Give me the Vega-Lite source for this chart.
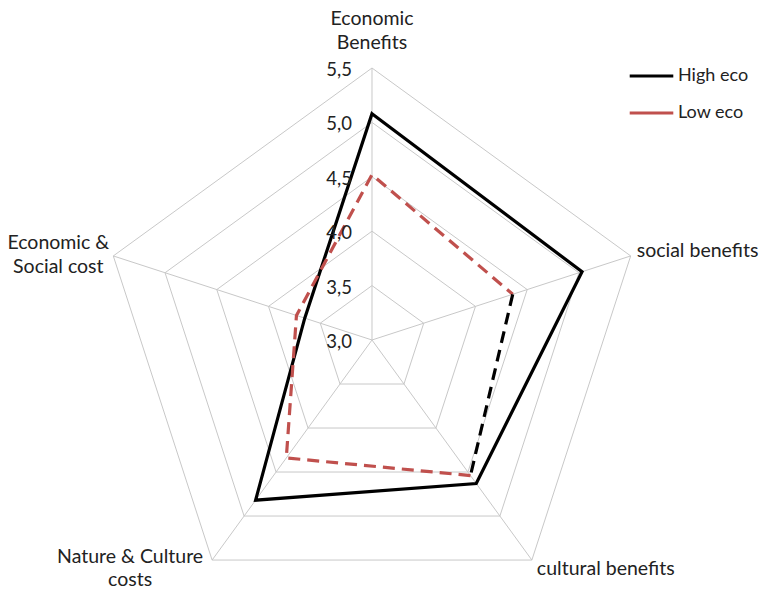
{
  "$schema": "https://vega.github.io/schema/vega-lite/v6.json",
  "width": 762,
  "height": 591,
  "padding": 0,
  "autosize": {"type": "none"},
  "background": "white",
  "config": {"view": {"stroke": null}, "font": "Lato"},
  "datasets": {
    "scores": [
      {"axis": "Economic Benefits", "idx": 0, "series": "High eco", "value": 5.08},
      {"axis": "social benefits", "idx": 1, "series": "High eco", "value": 5.03},
      {"axis": "cultural benefits", "idx": 2, "series": "High eco", "value": 4.63},
      {"axis": "Nature & Culture costs", "idx": 3, "series": "High eco", "value": 4.82},
      {"axis": "Economic & Social cost", "idx": 4, "series": "High eco", "value": 3.65},
      {"axis": "Economic Benefits", "idx": 0, "series": "Low eco", "value": 4.52},
      {"axis": "social benefits", "idx": 1, "series": "Low eco", "value": 4.36},
      {"axis": "cultural benefits", "idx": 2, "series": "Low eco", "value": 4.54},
      {"axis": "Nature & Culture costs", "idx": 3, "series": "Low eco", "value": 4.34},
      {"axis": "Economic & Social cost", "idx": 4, "series": "Low eco", "value": 3.73}
    ],
    "rings": [
      {"level": 3.5, "idx": [0, 1, 2, 3, 4]},
      {"level": 4.0, "idx": [0, 1, 2, 3, 4]},
      {"level": 4.5, "idx": [0, 1, 2, 3, 4]},
      {"level": 5.0, "idx": [0, 1, 2, 3, 4]},
      {"level": 5.5, "idx": [0, 1, 2, 3, 4]}
    ],
    "axes": [
      {"axis": "Economic\nBenefits", "idx": 0},
      {"axis": "social benefits", "idx": 1},
      {"axis": "cultural benefits", "idx": 2},
      {"axis": "Nature & Culture\ncosts", "idx": 3},
      {"axis": "Economic &\nSocial cost", "idx": 4}
    ],
    "ticks": [
      {"level": 3.0, "label": "3,0"},
      {"level": 3.5, "label": "3,5"},
      {"level": 4.0, "label": "4,0"},
      {"level": 4.5, "label": "4,5"},
      {"level": 5.0, "label": "5,0"},
      {"level": 5.5, "label": "5,5"}
    ]
  },
  "layer": [
    {
      "data": {"name": "rings"},
      "transform": [
        {"flatten": ["idx"]},
        {"calculate": "datum.level - 3", "as": "r"},
        {"calculate": "datum.r * sin(datum.idx * 2 * PI / 5)", "as": "px"},
        {"calculate": "datum.r * cos(datum.idx * 2 * PI / 5)", "as": "py"}
      ],
      "mark": {"type": "line", "interpolate": "linear-closed", "stroke": "#c8c8c8", "strokeWidth": 1},
      "encoding": {
        "x": {"field": "px", "type": "quantitative", "scale": {"domain": [-3.4191, 3.5846], "nice": false, "zero": false}, "axis": null},
        "y": {"field": "py", "type": "quantitative", "scale": {"domain": [-2.307, 3.125], "nice": false, "zero": false}, "axis": null},
        "detail": {"field": "level"},
        "order": {"field": "idx"}
      }
    },
    {
      "data": {"name": "axes"},
      "transform": [
        {"calculate": "2.5 * sin(datum.idx * 2 * PI / 5)", "as": "px"},
        {"calculate": "2.5 * cos(datum.idx * 2 * PI / 5)", "as": "py"}
      ],
      "mark": {"type": "rule", "stroke": "#c8c8c8", "strokeWidth": 1},
      "encoding": {
        "x": {"field": "px", "type": "quantitative"},
        "y": {"field": "py", "type": "quantitative"},
        "x2": {"datum": 0},
        "y2": {"datum": 0}
      }
    },
    {
      "data": {"name": "scores"},
      "transform": [
        {"filter": "datum.series === 'High eco'"},
        {"calculate": "(datum.value - 3) * sin(datum.idx * 2 * PI / 5)", "as": "px"},
        {"calculate": "(datum.value - 3) * cos(datum.idx * 2 * PI / 5)", "as": "py"}
      ],
      "mark": {"type": "line", "interpolate": "linear-closed", "strokeWidth": 3.2, "strokeJoin": "miter"},
      "encoding": {
        "x": {"field": "px", "type": "quantitative"},
        "y": {"field": "py", "type": "quantitative"},
        "order": {"field": "idx"},
        "color": {
          "field": "series",
          "type": "nominal",
          "scale": {"domain": ["High eco", "Low eco"], "range": ["#000000", "#c0504d"]},
          "legend": {
            "orient": "none",
            "legendX": 628,
            "legendY": 63,
            "title": null,
            "symbolType": "stroke",
            "symbolSize": 1900,
            "symbolStrokeWidth": 3,
            "symbolDash": [],
            "labelFont": "Lato",
            "labelFontSize": 18,
            "labelColor": "#222222",
            "labelOffset": 3,
            "clipHeight": 26,
            "rowPadding": 11,
            "padding": 0
          }
        }
      }
    },
    {
      "data": {"name": "scores"},
      "transform": [
        {"filter": "datum.series === 'Low eco'"},
        {"calculate": "(datum.idx + 3) % 5", "as": "ord"},
        {"calculate": "(datum.value - 3) * sin(datum.idx * 2 * PI / 5)", "as": "px"},
        {"calculate": "(datum.value - 3) * cos(datum.idx * 2 * PI / 5)", "as": "py"}
      ],
      "mark": {"type": "line", "strokeWidth": 3.2, "strokeDash": [12, 7]},
      "encoding": {
        "x": {"field": "px", "type": "quantitative"},
        "y": {"field": "py", "type": "quantitative"},
        "order": {"field": "ord"},
        "color": {"field": "series", "type": "nominal"}
      }
    },
    {
      "data": {"name": "scores"},
      "transform": [
        {"filter": "datum.series === 'Low eco' && (datum.idx === 1 || datum.idx === 2)"},
        {"calculate": "(datum.value - 3) * sin(datum.idx * 2 * PI / 5)", "as": "px"},
        {"calculate": "(datum.value - 3) * cos(datum.idx * 2 * PI / 5)", "as": "py"}
      ],
      "mark": {"type": "line", "strokeWidth": 3.2, "strokeDash": [12, 7], "stroke": "#000000"},
      "encoding": {
        "x": {"field": "px", "type": "quantitative"},
        "y": {"field": "py", "type": "quantitative"},
        "order": {"field": "idx"}
      }
    },
    {
      "data": {"name": "ticks"},
      "transform": [{"calculate": "datum.level - 3", "as": "py"}],
      "mark": {"type": "text", "align": "right", "baseline": "middle", "dx": -20, "dy": 2, "fontSize": 18.5, "fill": "#222222"},
      "encoding": {
        "x": {"datum": 0},
        "y": {"field": "py", "type": "quantitative"},
        "text": {"field": "label"}
      }
    },
    {
      "data": {"name": "axes"},
      "transform": [
        {"filter": "datum.idx === 0"},
        {"calculate": "2.5 * sin(datum.idx * 2 * PI / 5)", "as": "px"},
        {"calculate": "2.5 * cos(datum.idx * 2 * PI / 5)", "as": "py"}
      ],
      "mark": {"type": "text", "align": "center", "baseline": "middle", "dy": -49, "fontSize": 19.5, "lineHeight": 24, "lineBreak": "\n", "fill": "#222222"},
      "encoding": {
        "x": {"field": "px", "type": "quantitative"},
        "y": {"field": "py", "type": "quantitative"},
        "text": {"field": "axis"}
      }
    },
    {
      "data": {"name": "axes"},
      "transform": [
        {"filter": "datum.idx === 1"},
        {"calculate": "2.5 * sin(datum.idx * 2 * PI / 5)", "as": "px"},
        {"calculate": "2.5 * cos(datum.idx * 2 * PI / 5)", "as": "py"}
      ],
      "mark": {"type": "text", "align": "left", "baseline": "middle", "dx": 6, "dy": -5, "fontSize": 19.5, "fill": "#222222"},
      "encoding": {
        "x": {"field": "px", "type": "quantitative"},
        "y": {"field": "py", "type": "quantitative"},
        "text": {"field": "axis"}
      }
    },
    {
      "data": {"name": "axes"},
      "transform": [
        {"filter": "datum.idx === 2"},
        {"calculate": "2.5 * sin(datum.idx * 2 * PI / 5)", "as": "px"},
        {"calculate": "2.5 * cos(datum.idx * 2 * PI / 5)", "as": "py"}
      ],
      "mark": {"type": "text", "align": "left", "baseline": "middle", "dx": 5, "dy": 9, "fontSize": 19.5, "fill": "#222222"},
      "encoding": {
        "x": {"field": "px", "type": "quantitative"},
        "y": {"field": "py", "type": "quantitative"},
        "text": {"field": "axis"}
      }
    },
    {
      "data": {"name": "axes"},
      "transform": [
        {"filter": "datum.idx === 3"},
        {"calculate": "2.5 * sin(datum.idx * 2 * PI / 5)", "as": "px"},
        {"calculate": "2.5 * cos(datum.idx * 2 * PI / 5)", "as": "py"}
      ],
      "mark": {"type": "text", "align": "center", "baseline": "middle", "dx": -82, "dy": -3, "fontSize": 19.5, "lineHeight": 23, "lineBreak": "\n", "fill": "#222222"},
      "encoding": {
        "x": {"field": "px", "type": "quantitative"},
        "y": {"field": "py", "type": "quantitative"},
        "text": {"field": "axis"}
      }
    },
    {
      "data": {"name": "axes"},
      "transform": [
        {"filter": "datum.idx === 4"},
        {"calculate": "2.5 * sin(datum.idx * 2 * PI / 5)", "as": "px"},
        {"calculate": "2.5 * cos(datum.idx * 2 * PI / 5)", "as": "py"}
      ],
      "mark": {"type": "text", "align": "center", "baseline": "middle", "dx": -55, "dy": -13, "fontSize": 19.5, "lineHeight": 24, "lineBreak": "\n", "fill": "#222222"},
      "encoding": {
        "x": {"field": "px", "type": "quantitative"},
        "y": {"field": "py", "type": "quantitative"},
        "text": {"field": "axis"}
      }
    }
  ]
}
